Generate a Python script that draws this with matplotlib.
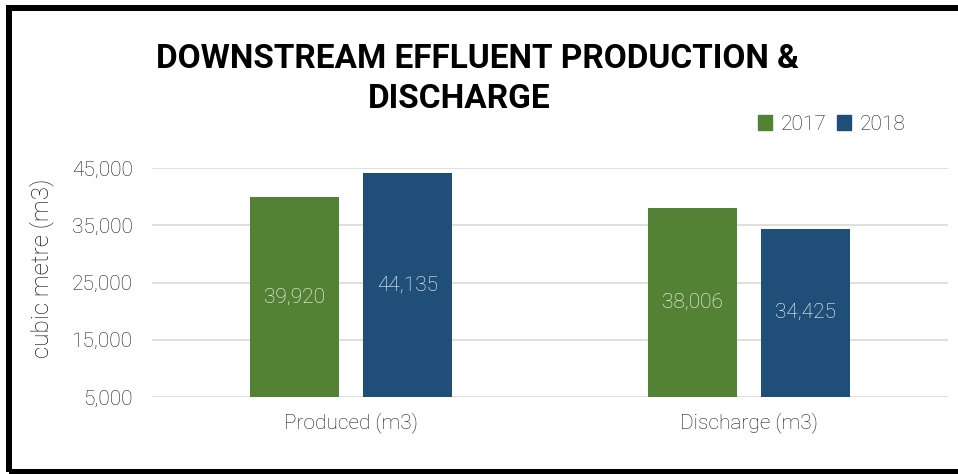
import numpy as np
import matplotlib
matplotlib.use("Agg")
import matplotlib.pyplot as plt
from matplotlib.patches import Rectangle, Patch

categories = ["Produced (m3)", "Discharge (m3)"]
years = ["2017", "2018"]
values_2017 = [39920, 38006]
values_2018 = [44135, 34425]
y_ticks = [5000, 15000, 25000, 35000, 45000]

green = "#548235"
blue = "#1f4e79"
text_col = "#1a1a1a"

plt.rcParams["font.family"] = ["Roboto", "DejaVu Sans"]

fig = plt.figure(figsize=(9.58, 4.74), dpi=100)
ax = fig.add_axes([0.1587, 0.1624, 0.8309, 0.4832])

x = np.arange(len(categories))
w = 0.224
off = 0.142
b1 = ax.bar(x - off, np.array(values_2017) - 5000, w, bottom=5000, color=green, zorder=2)
b2 = ax.bar(x + off, np.array(values_2018) - 5000, w, bottom=5000, color=blue, zorder=2)

# value labels centred in each bar
for bars, vals in [(b1, values_2017), (b2, values_2018)]:
    for rect, v in zip(bars, vals):
        ax.text(rect.get_x() + rect.get_width() / 2, (5000 + v) / 2, f"{v:,}",
                ha="center", va="center", color="white", fontsize=15, fontweight="light")

ax.set_xlim(-0.5, 1.5)
ax.set_ylim(5000, 45000)
ax.set_yticks(y_ticks)
ax.set_yticklabels([f"{t:,}" for t in y_ticks], fontsize=15, color=text_col, fontweight="light")
ax.set_xticks(x)
ax.set_xticklabels(categories, fontsize=15, color=text_col, fontweight="light")
ax.tick_params(length=0, axis="y", pad=14)
ax.tick_params(length=0, axis="x", pad=11)
ax.yaxis.grid(True, color="#d9d9d9", linewidth=1.2, zorder=0)
ax.set_axisbelow(True)
for s in ax.spines.values():
    s.set_visible(False)

fig.text(42 / 958, 1 - 268 / 474, "cubic metre (m3)", rotation=90, ha="center", va="center",
         fontsize=17.5, color=text_col, fontweight="light")

# title: two lines, each centred slightly differently like the original
fig.text(477 / 958, 1 - 43 / 474, "DOWNSTREAM EFFLUENT PRODUCTION &",
         ha="center", va="top", fontsize=24, fontweight="bold", color="black")
fig.text(459 / 958, 1 - 83 / 474, "DISCHARGE",
         ha="center", va="top", fontsize=24, fontweight="bold", color="black")

handles = [Patch(color=green, label=years[0]), Patch(color=blue, label=years[1])]
fig.legend(handles=handles, loc="center right", bbox_to_anchor=(924 / 958, 1 - 124 / 474), ncol=2,
           frameon=False, handlelength=0.7, handleheight=0.7, handletextpad=0.4,
           columnspacing=0.5, prop={"size": 15, "weight": "light"})
for t in fig.legends[0].get_texts():
    t.set_color(text_col)

# black frame, cut off on the right like the reference
fig.patches.append(Rectangle((9 / 958, 1 - 471.5 / 474), 1.2, 463.5 / 474, transform=fig.transFigure,
                             fill=False, edgecolor="black", linewidth=6 * 0.72))

fig.savefig("out.png", dpi=100)
